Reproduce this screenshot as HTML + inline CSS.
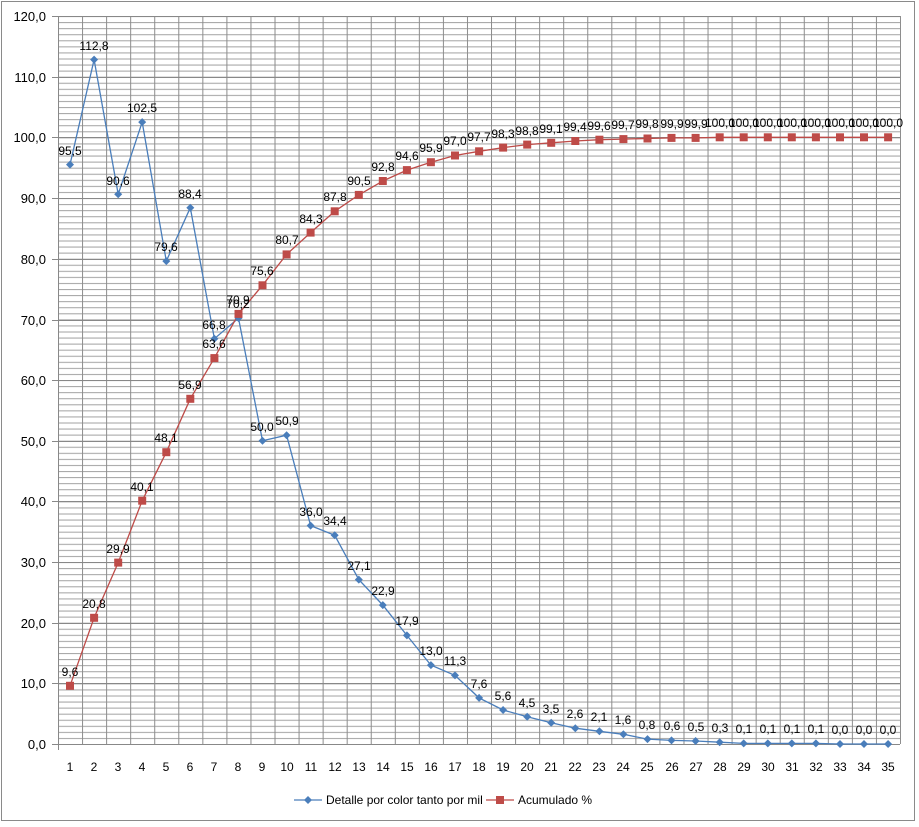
<!DOCTYPE html>
<html><head><meta charset="utf-8"><style>
html,body{margin:0;padding:0;background:#fff;}
svg{display:block;font-family:"Liberation Sans",sans-serif;}
</style></head><body>
<svg width="919" height="827" viewBox="0 0 919 827" xmlns="http://www.w3.org/2000/svg">
<defs>
<pattern id="hm" x="0" y="16" width="919" height="6.0667" patternUnits="userSpaceOnUse"><line x1="0" y1="0.5" x2="919" y2="0.5" stroke="#a6a6a6" stroke-width="1"/></pattern>
<pattern id="vg" x="58" y="0" width="24.057" height="827" patternUnits="userSpaceOnUse"><line x1="0.5" y1="0" x2="0.5" y2="827" stroke="#8c8c8c" stroke-width="1"/></pattern>
</defs>
<rect x="1.5" y="1.5" width="913" height="819" fill="#fff" stroke="#8a8a8a"/>
<rect x="58" y="16" width="842" height="728" fill="url(#hm)"/>
<rect x="58" y="16" width="843" height="728" fill="url(#vg)"/>
<g stroke="#888" stroke-width="1">
<line x1="52" y1="16.5" x2="900" y2="16.5"/><line x1="52" y1="77.5" x2="900" y2="77.5"/><line x1="52" y1="137.5" x2="900" y2="137.5"/><line x1="52" y1="198.5" x2="900" y2="198.5"/><line x1="52" y1="259.5" x2="900" y2="259.5"/><line x1="52" y1="320.5" x2="900" y2="320.5"/><line x1="52" y1="380.5" x2="900" y2="380.5"/><line x1="52" y1="441.5" x2="900" y2="441.5"/><line x1="52" y1="501.5" x2="900" y2="501.5"/><line x1="52" y1="562.5" x2="900" y2="562.5"/><line x1="52" y1="623.5" x2="900" y2="623.5"/><line x1="52" y1="683.5" x2="900" y2="683.5"/><line x1="52" y1="744.5" x2="900" y2="744.5"/>
<line x1="58.5" y1="16" x2="58.5" y2="750"/>
</g>
<g font-size="13" fill="#000" text-anchor="end">
<text x="46" y="21">120,0</text><text x="46" y="82">110,0</text><text x="46" y="142">100,0</text><text x="46" y="203">90,0</text><text x="46" y="264">80,0</text><text x="46" y="325">70,0</text><text x="46" y="385">60,0</text><text x="46" y="446">50,0</text><text x="46" y="506">40,0</text><text x="46" y="567">30,0</text><text x="46" y="628">20,0</text><text x="46" y="688">10,0</text><text x="46" y="749">0,0</text>
</g>
<g font-size="12" fill="#000" text-anchor="middle">
<text x="70" y="771">1</text><text x="94" y="771">2</text><text x="118" y="771">3</text><text x="142" y="771">4</text><text x="166" y="771">5</text><text x="190" y="771">6</text><text x="214" y="771">7</text><text x="238" y="771">8</text><text x="262" y="771">9</text><text x="287" y="771">10</text><text x="311" y="771">11</text><text x="335" y="771">12</text><text x="359" y="771">13</text><text x="383" y="771">14</text><text x="407" y="771">15</text><text x="431" y="771">16</text><text x="455" y="771">17</text><text x="479" y="771">18</text><text x="503" y="771">19</text><text x="527" y="771">20</text><text x="551" y="771">21</text><text x="575" y="771">22</text><text x="599" y="771">23</text><text x="623" y="771">24</text><text x="647" y="771">25</text><text x="672" y="771">26</text><text x="696" y="771">27</text><text x="720" y="771">28</text><text x="744" y="771">29</text><text x="768" y="771">30</text><text x="792" y="771">31</text><text x="816" y="771">32</text><text x="840" y="771">33</text><text x="864" y="771">34</text><text x="888" y="771">35</text>
</g>
<polyline fill="none" stroke="#4a7ebb" stroke-width="1.3" points="70,164.6 94.1,59.6 118.2,194.3 142.2,122.1 166.3,261.1 190.3,207.7 214.4,338.7 238.5,318.1 262.5,440.7 286.6,435.2 310.6,525.6 334.7,535.3 358.8,579.6 382.8,605.1 406.9,635.4 430.9,665.1 455,675.4 479.1,697.9 503.1,710 527.2,716.7 551.2,722.8 575.3,728.2 599.4,731.3 623.4,734.3 647.5,739.1 671.5,740.4 695.6,741 719.7,742.2 743.7,743.4 767.8,743.4 791.8,743.4 815.9,743.4 840,744 864,744 888.1,744"/>
<polyline fill="none" stroke="#be4b48" stroke-width="1.3" points="70,685.8 94.1,617.8 118.2,562.6 142.2,500.7 166.3,452.2 190.3,398.8 214.4,358.1 238.5,313.9 262.5,285.3 286.6,254.4 310.6,232.6 334.7,211.3 358.8,194.9 382.8,181 406.9,170.1 430.9,162.2 455,155.5 479.1,151.3 503.1,147.6 527.2,144.6 551.2,142.8 575.3,141 599.4,139.7 623.4,139.1 647.5,138.5 671.5,137.9 695.6,137.9 719.7,137.3 743.7,137.3 767.8,137.3 791.8,137.3 815.9,137.3 840,137.3 864,137.3 888.1,137.3"/>
<g fill="#4a7ebb">
<path d="M70,160.6l4,4l-4,4l-4,-4z"/><path d="M94.1,55.6l4,4l-4,4l-4,-4z"/><path d="M118.2,190.3l4,4l-4,4l-4,-4z"/><path d="M142.2,118.1l4,4l-4,4l-4,-4z"/><path d="M166.3,257.1l4,4l-4,4l-4,-4z"/><path d="M190.3,203.7l4,4l-4,4l-4,-4z"/><path d="M214.4,334.7l4,4l-4,4l-4,-4z"/><path d="M238.5,314.1l4,4l-4,4l-4,-4z"/><path d="M262.5,436.7l4,4l-4,4l-4,-4z"/><path d="M286.6,431.2l4,4l-4,4l-4,-4z"/><path d="M310.6,521.6l4,4l-4,4l-4,-4z"/><path d="M334.7,531.3l4,4l-4,4l-4,-4z"/><path d="M358.8,575.6l4,4l-4,4l-4,-4z"/><path d="M382.8,601.1l4,4l-4,4l-4,-4z"/><path d="M406.9,631.4l4,4l-4,4l-4,-4z"/><path d="M430.9,661.1l4,4l-4,4l-4,-4z"/><path d="M455,671.4l4,4l-4,4l-4,-4z"/><path d="M479.1,693.9l4,4l-4,4l-4,-4z"/><path d="M503.1,706l4,4l-4,4l-4,-4z"/><path d="M527.2,712.7l4,4l-4,4l-4,-4z"/><path d="M551.2,718.8l4,4l-4,4l-4,-4z"/><path d="M575.3,724.2l4,4l-4,4l-4,-4z"/><path d="M599.4,727.3l4,4l-4,4l-4,-4z"/><path d="M623.4,730.3l4,4l-4,4l-4,-4z"/><path d="M647.5,735.1l4,4l-4,4l-4,-4z"/><path d="M671.5,736.4l4,4l-4,4l-4,-4z"/><path d="M695.6,737l4,4l-4,4l-4,-4z"/><path d="M719.7,738.2l4,4l-4,4l-4,-4z"/><path d="M743.7,739.4l4,4l-4,4l-4,-4z"/><path d="M767.8,739.4l4,4l-4,4l-4,-4z"/><path d="M791.8,739.4l4,4l-4,4l-4,-4z"/><path d="M815.9,739.4l4,4l-4,4l-4,-4z"/><path d="M840,740l4,4l-4,4l-4,-4z"/><path d="M864,740l4,4l-4,4l-4,-4z"/><path d="M888.1,740l4,4l-4,4l-4,-4z"/>
</g>
<g fill="#be4b48">
<rect x="66" y="681.8" width="8" height="8"/><rect x="90.1" y="613.8" width="8" height="8"/><rect x="114.2" y="558.6" width="8" height="8"/><rect x="138.2" y="496.7" width="8" height="8"/><rect x="162.3" y="448.2" width="8" height="8"/><rect x="186.3" y="394.8" width="8" height="8"/><rect x="210.4" y="354.1" width="8" height="8"/><rect x="234.5" y="309.9" width="8" height="8"/><rect x="258.5" y="281.3" width="8" height="8"/><rect x="282.6" y="250.4" width="8" height="8"/><rect x="306.6" y="228.6" width="8" height="8"/><rect x="330.7" y="207.3" width="8" height="8"/><rect x="354.8" y="190.9" width="8" height="8"/><rect x="378.8" y="177" width="8" height="8"/><rect x="402.9" y="166.1" width="8" height="8"/><rect x="426.9" y="158.2" width="8" height="8"/><rect x="451" y="151.5" width="8" height="8"/><rect x="475.1" y="147.3" width="8" height="8"/><rect x="499.1" y="143.6" width="8" height="8"/><rect x="523.2" y="140.6" width="8" height="8"/><rect x="547.2" y="138.8" width="8" height="8"/><rect x="571.3" y="137" width="8" height="8"/><rect x="595.4" y="135.7" width="8" height="8"/><rect x="619.4" y="135.1" width="8" height="8"/><rect x="643.5" y="134.5" width="8" height="8"/><rect x="667.5" y="133.9" width="8" height="8"/><rect x="691.6" y="133.9" width="8" height="8"/><rect x="715.7" y="133.3" width="8" height="8"/><rect x="739.7" y="133.3" width="8" height="8"/><rect x="763.8" y="133.3" width="8" height="8"/><rect x="787.8" y="133.3" width="8" height="8"/><rect x="811.9" y="133.3" width="8" height="8"/><rect x="836" y="133.3" width="8" height="8"/><rect x="860" y="133.3" width="8" height="8"/><rect x="884.1" y="133.3" width="8" height="8"/>
</g>
<g font-size="12" fill="#000" text-anchor="middle">
<text x="70" y="155">95,5</text><text x="94" y="50">112,8</text><text x="118" y="185">90,6</text><text x="142" y="112">102,5</text><text x="166" y="251">79,6</text><text x="190" y="198">88,4</text><text x="214" y="329">66,8</text><text x="238" y="308">70,2</text><text x="262" y="431">50,0</text><text x="287" y="425">50,9</text><text x="311" y="516">36,0</text><text x="335" y="525">34,4</text><text x="359" y="570">27,1</text><text x="383" y="595">22,9</text><text x="407" y="625">17,9</text><text x="431" y="655">13,0</text><text x="455" y="665">11,3</text><text x="479" y="688">7,6</text><text x="503" y="700">5,6</text><text x="527" y="707">4,5</text><text x="551" y="713">3,5</text><text x="575" y="718">2,6</text><text x="599" y="721">2,1</text><text x="623" y="724">1,6</text><text x="647" y="729">0,8</text><text x="672" y="730">0,6</text><text x="696" y="731">0,5</text><text x="720" y="732">0,3</text><text x="744" y="733">0,1</text><text x="768" y="733">0,1</text><text x="792" y="733">0,1</text><text x="816" y="733">0,1</text><text x="840" y="734">0,0</text><text x="864" y="734">0,0</text><text x="888" y="734">0,0</text>
</g>
<g font-size="12" fill="#000" text-anchor="middle">
<text x="70" y="676">9,6</text><text x="94" y="608">20,8</text><text x="118" y="553">29,9</text><text x="142" y="491">40,1</text><text x="166" y="442">48,1</text><text x="190" y="389">56,9</text><text x="214" y="348">63,6</text><text x="238" y="304">70,9</text><text x="262" y="275">75,6</text><text x="287" y="244">80,7</text><text x="311" y="223">84,3</text><text x="335" y="201">87,8</text><text x="359" y="185">90,5</text><text x="383" y="171">92,8</text><text x="407" y="160">94,6</text><text x="431" y="152">95,9</text><text x="455" y="145">97,0</text><text x="479" y="141">97,7</text><text x="503" y="138">98,3</text><text x="527" y="135">98,8</text><text x="551" y="133">99,1</text><text x="575" y="131">99,4</text><text x="599" y="130">99,6</text><text x="623" y="129">99,7</text><text x="647" y="128">99,8</text><text x="672" y="128">99,9</text><text x="696" y="128">99,9</text><text x="720" y="127">100,0</text><text x="744" y="127">100,0</text><text x="768" y="127">100,0</text><text x="792" y="127">100,0</text><text x="816" y="127">100,0</text><text x="840" y="127">100,0</text><text x="864" y="127">100,0</text><text x="888" y="127">100,0</text>
</g>
<line x1="294" y1="800" x2="322" y2="800" stroke="#4a7ebb" stroke-width="1.3"/>
<path d="M308,796l4,4l-4,4l-4,-4z" fill="#4a7ebb"/>
<text x="326" y="804" font-size="12">Detalle por color tanto por mil</text>
<line x1="486" y1="800" x2="514" y2="800" stroke="#be4b48" stroke-width="1.3"/>
<rect x="496" y="796" width="8" height="8" fill="#be4b48"/>
<text x="518" y="804" font-size="12">Acumulado %</text>
</svg>
</body></html>
